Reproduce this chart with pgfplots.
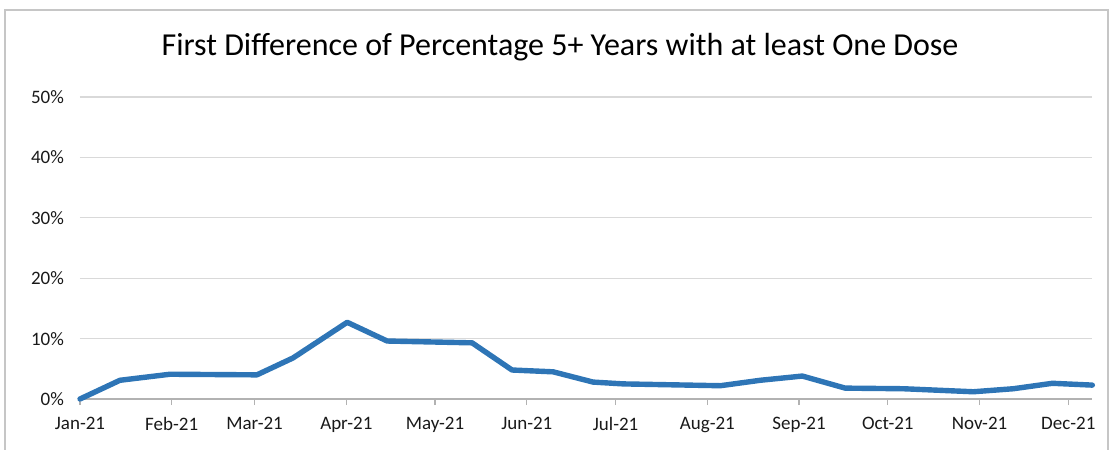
\documentclass[border=0pt]{standalone}
\usepackage{pgfplots}
\pgfplotsset{compat=1.18}
\usepackage{fontspec}
\setmainfont{Carlito}
\definecolor{lineblue}{HTML}{2E75B6}
\definecolor{gridgray}{HTML}{D9D9D9}
\begin{document}
\begin{tikzpicture}
\useasboundingbox (0,0) rectangle (555.5pt,224.5pt);
\draw[gray!45, line width=0.6pt] (2.5pt,-2pt) -- (2.5pt,219.5pt) -- (554pt,219.5pt) -- (554pt,-2pt);
\node[font=\fontsize{16}{19}\selectfont] at (280pt,201pt) {First Difference of Percentage 5+ Years with at least One Dose};
\begin{axis}[
  at={(40pt,25pt)}, anchor=south west,
  scale only axis, width=506pt, height=151pt,
  xmin=0, xmax=342, ymin=0, ymax=50,
  axis x line*=bottom, axis y line*=left,
  x axis line style={draw=gray!60, line width=0.6pt},
  y axis line style={draw=none},
  xtick={0,31,59,90,120,151,181,212,243,273,304,334},
  xticklabels={Jan-21,Feb-21,Mar-21,Apr-21,May-21,Jun-21,Jul-21,Aug-21,Sep-21,Oct-21,Nov-21,Dec-21},
  ytick={0,10,20,30,40,50},
  yticklabels={0\%,10\%,20\%,30\%,40\%,50\%},
  tick align=outside,
  xtick style={draw=gray!60, line width=0.6pt},
  major tick length=3pt,
  ytick style={draw=none},
  ymajorgrids, grid style={gridgray, line width=0.6pt},
  ticklabel style={font=\fontsize{9.5}{11}\selectfont, text=black!90},
  xticklabel style={yshift=-2.5pt},
  yticklabel style={xshift=-1.5pt},
  clip=false,
]
\addplot[lineblue, line width=2.7pt, line join=round, line cap=round] coordinates {
(0,0.0) (13.5,3.1) (30.4,4.1) (59.8,4.0) (72.0,6.8) (90.3,12.7) (103.8,9.6)
(132.5,9.3) (146.0,4.8) (159.9,4.5) (173.4,2.8) (183.6,2.5) (216.4,2.2)
(229.9,3.1) (244.1,3.8) (258.6,1.8) (278.2,1.7) (301.9,1.2) (315.4,1.7)
(328.6,2.6) (342.1,2.3)
};
\end{axis}
\end{tikzpicture}
\end{document}
